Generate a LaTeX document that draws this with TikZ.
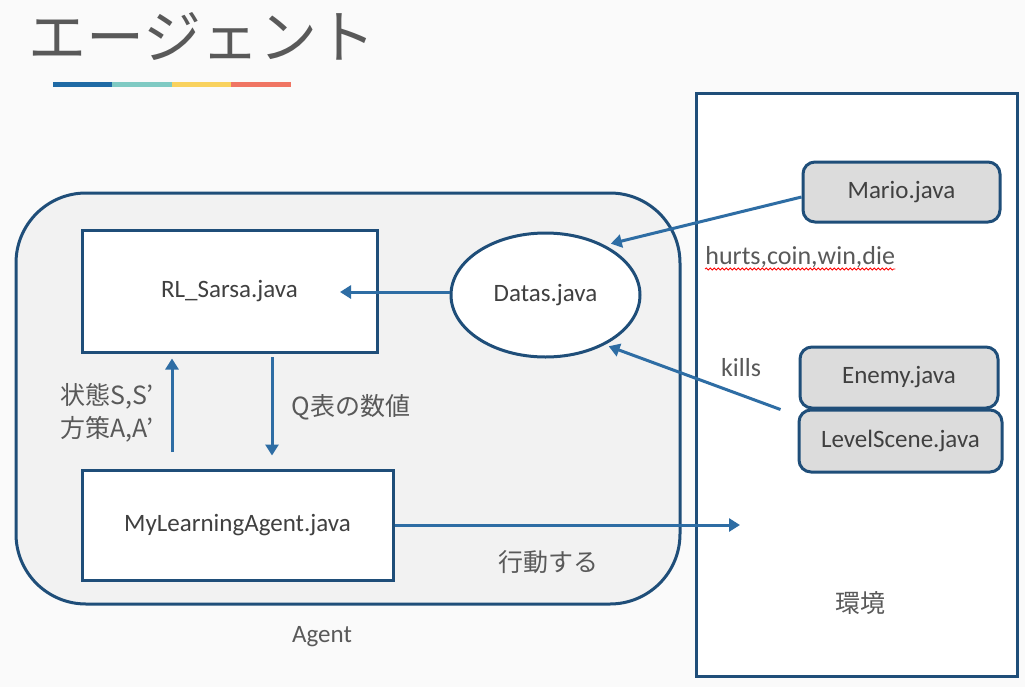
\documentclass[tikz,border=0pt]{standalone}
\usepackage{fontspec}
\setmainfont{Carlito}
\newfontfamily\jpfont{Noto Sans CJK JP}
\usetikzlibrary{arrows.meta,shapes.geometric,decorations.pathmorphing}
\definecolor{frameblue}{HTML}{1F4E79}
\definecolor{arrowblue}{HTML}{2E6DA4}
\definecolor{pagegray}{HTML}{FAFAFA}
\definecolor{agentgray}{HTML}{F2F2F2}
\definecolor{classgray}{HTML}{DCDCDC}
\definecolor{textgray}{HTML}{404040}
\definecolor{labelgray}{HTML}{595959}
\definecolor{barblue}{HTML}{1F6AA5}
\definecolor{barteal}{HTML}{7FCAC3}
\definecolor{baryellow}{HTML}{F9D25E}
\definecolor{barsalmon}{HTML}{F07563}
\tikzset{
  javabox/.style={draw=frameblue, line width=1.5pt, fill=white, text=textgray,
    font=\fontsize{12.5}{15}\selectfont, inner sep=0pt},
  envclass/.style={draw=frameblue, line width=1.5pt, fill=classgray, rounded corners=6pt,
    text=textgray, font=\fontsize{12.5}{15}\selectfont, inner sep=0pt},
  flow/.style={draw=arrowblue, line width=1.5pt, -{Triangle[length=5.5pt,width=6.5pt]}},
  lbl/.style={text=labelgray, font=\fontsize{12.5}{16.5}\selectfont},
  jplbl/.style={text=labelgray, font=\jpfont\fontsize{12.5}{16.5}\selectfont}
}
\begin{document}
\begin{tikzpicture}[x=0.5pt, y=-0.5pt]

        %Page
        \fill [pagegray] (0,0) rectangle (1025,687);
        \useasboundingbox (0,0) rectangle (1025,687);

        %Title
        \node [anchor=west, inner sep=0pt, text=labelgray, font=\jpfont\fontsize{29}{33}\selectfont] (title) at (28,36) {エージェント};
        \fill [barblue] (53,82) rectangle (112,87);
        \fill [barteal] (112,82) rectangle (172,87);
        \fill [baryellow] (172,82) rectangle (231,87);
        \fill [barsalmon] (231,82) rectangle (291,87);

        %Agent
        \draw [draw=frameblue, line width=1.5pt, fill=agentgray, rounded corners=35pt] (16,193) rectangle (680,604);
        \node [lbl] (agentlbl) at (322,637) {Agent};
        \node [javabox, minimum width=147.5pt, minimum height=61pt] (sarsa) at (229.5,291) {RL\_Sarsa.java};
        \node [javabox, ellipse, minimum width=94.5pt, minimum height=62pt] (datas) at (545.5,295) {Datas.java};
        \node [javabox, minimum width=155.5pt, minimum height=55pt] (mylearn) at (237.5,525) {MyLearningAgent.java};

        %Environment
        \node [draw=frameblue, line width=1.5pt, fill=white, minimum width=160.5pt, minimum height=291.5pt, inner sep=0pt] (env) at (856.5,384.5) {};
        \node [jplbl] (envlbl) at (860,603) {環境};
        \node [envclass, minimum width=98.5pt, minimum height=30pt] (mario) at (901.5,192) {Mario.java};
        \node [envclass, minimum width=99pt, minimum height=30.5pt] (enemy) at (899,377.5) {Enemy.java};
        \node [envclass, minimum width=101.5pt, minimum height=31pt] (level) at (900.5,441) {LevelScene.java};

        %Connectors
        \coordinate (sarsain) at (340,292);
        \coordinate (upfoot) at (172,452);
        \coordinate (downtop) at (272,357);
        \coordinate (actend) at (740,525);
        \draw [flow, shorten >=3pt] ([yshift=-2.5pt]mario.west) -- (datas.40);
        \draw [flow, shorten >=2pt] ([xshift=-9pt]enemy.south west) -- (datas.-40);
        \draw [flow] (datas.west |- sarsain) -- (sarsain);
        \draw [flow, shorten >=2.5pt] (upfoot) -- (upfoot |- sarsa.south);
        \draw [flow, shorten >=6.5pt] (downtop) -- (downtop |- mylearn.north);
        \draw [flow] (mylearn.east) -- (actend);

        %Labels
        \node [lbl, anchor=west, inner sep=0pt, font=\fontsize{13}{16}\selectfont] (hurts) at (705,257) {hurts,coin,win,die};
        \draw [red, line width=0.4pt, decorate, decoration={snake, amplitude=0.5pt, segment length=2pt}] ([yshift=-6pt]hurts.west) -- ([yshift=-6pt]hurts.east);
        \node [lbl, font=\fontsize{13}{16}\selectfont] (kills) at (741,368) {kills};
        \node [jplbl, anchor=west, align=left, inner sep=0pt] (state) at (60,413) {状態S,S’\\方策A,A’};
        \node [jplbl] (qvalue) at (351,407) {Q表の数値};
        \node [jplbl] (act) at (548,562) {行動する};

\end{tikzpicture}
\end{document}
